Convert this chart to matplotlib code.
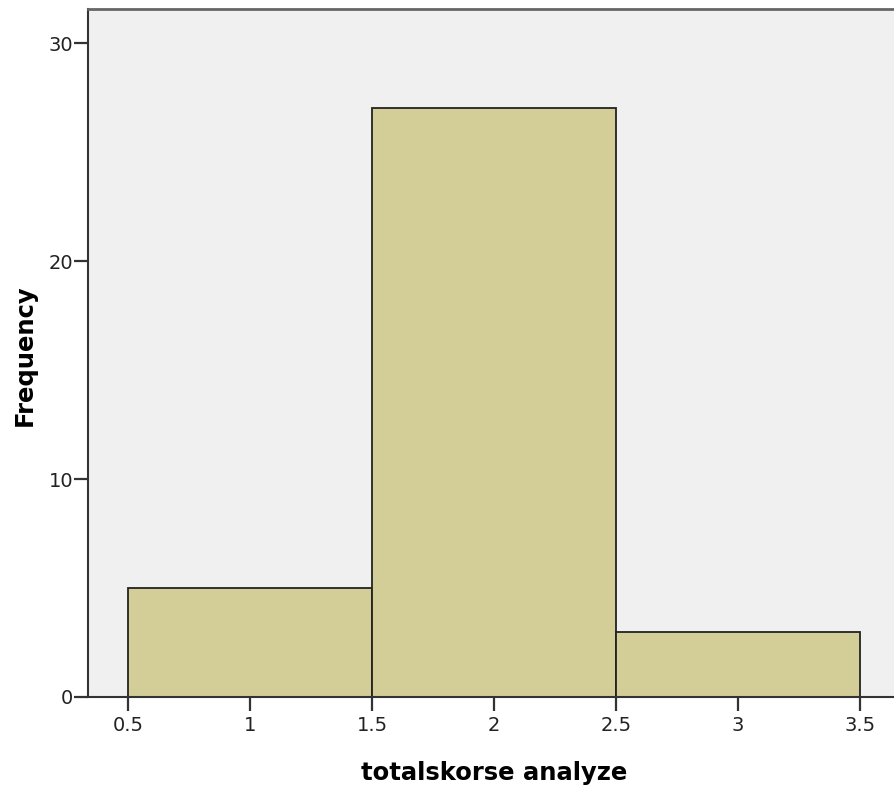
import numpy as np
import matplotlib
matplotlib.use("Agg")
import matplotlib.pyplot as plt

# histogram bins and counts
bin_edges = [0.5, 1.5, 2.5, 3.5]
counts = [5, 27, 3]
x_ticks = [0.5, 1, 1.5, 2, 2.5, 3, 3.5]
x_tick_labels = ["0.5", "1", "1.5", "2", "2.5", "3", "3.5"]
y_ticks = [0, 10, 20, 30]

plt.rcParams["font.family"] = ["DejaVu Sans"]

fig = plt.figure(figsize=(8.94, 7.93), dpi=100)
W, H = 894, 793
ax = fig.add_axes([88 / W, (H - 697) / H, (W - 88) / W, (697 - 9) / H])
ax.set_facecolor("#f0f0f0")

lefts = np.array(bin_edges[:-1])
widths = np.diff(bin_edges)
ax.bar(lefts, counts, width=widths, align="edge", color="#d3ce97",
       edgecolor="#222222", linewidth=1.3, zorder=2)

ax.set_xlim(0.336, 3.64)
ax.set_ylim(0, 31.56)
ax.set_xticks(x_ticks)
ax.set_xticklabels(x_tick_labels)
ax.set_yticks(y_ticks)

for side in ["left", "bottom"]:
    ax.spines[side].set_color("#333333")
    ax.spines[side].set_linewidth(1.5)
ax.spines["top"].set_color("#666666")
ax.spines["top"].set_linewidth(2)
ax.spines["right"].set_visible(False)

ax.tick_params(axis="both", direction="out", length=10, width=1.6,
               color="#333333", labelsize=14, labelcolor="#222222")
ax.tick_params(axis="x", pad=4)
ax.tick_params(axis="y", pad=0.5)

ax.set_xlabel("totalskorse analyze", fontsize=17.5, fontweight="bold")
ax.set_ylabel("Frequency", fontsize=17.5, fontweight="bold")
ax.xaxis.label.set_va("center")
ax.yaxis.label.set_va("center")
ax.xaxis.set_label_coords(494 / W, (H - 773) / H, transform=fig.transFigure)
ax.yaxis.set_label_coords(25 / W, (H - 355) / H, transform=fig.transFigure)

fig.savefig("out.png", dpi=100)
